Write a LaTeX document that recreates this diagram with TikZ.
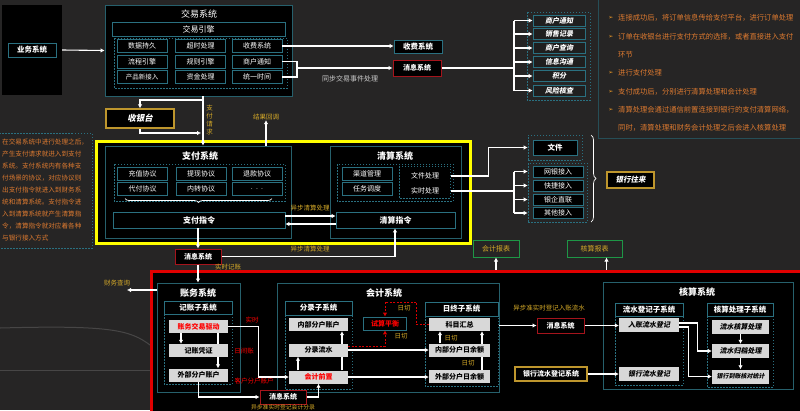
\documentclass[tikz,border=0pt]{standalone}
\usepackage{fontspec}
\setmainfont{Noto Sans CJK SC}
\newfontfamily\slfont{Noto Sans CJK SC}[FakeSlant=0.2]
\newfontfamily\symfont{DejaVu Sans}
\usetikzlibrary{arrows.meta,positioning,calc,decorations.pathreplacing}
\definecolor{bgc}{RGB}{38,37,37}
\definecolor{tealf}{RGB}{38,96,108}
\definecolor{tealc}{RGB}{42,112,128}
\definecolor{gold}{RGB}{214,170,40}
\definecolor{goldb}{RGB}{190,150,45}
\definecolor{yel}{RGB}{255,255,0}
\definecolor{redf}{RGB}{225,0,0}
\definecolor{msgred}{RGB}{165,20,28}
\definecolor{grn}{RGB}{30,150,70}
\definecolor{orng}{RGB}{222,122,48}
\definecolor{boxg}{RGB}{216,216,216}
\newcommand{\sz}[1]{\fontsize{#1}{#1}\selectfont}

\begin{document}
\begin{tikzpicture}[x=1pt,y=-1pt,
  frame/.style={draw=tealf,fill=black,line width=0.8pt,inner sep=0},
  cell/.style={draw=tealc,fill=black,line width=0.7pt,text=white,inner sep=0,minimum width=50pt,minimum height=13pt,font=\sz{7}},
  hd/.style={cell,font=\sz{7.5}\bfseries},
  ibox/.style={cell,fill=black!88!white,minimum width=52pt,minimum height=11pt,font=\sz{7}\slfont\bfseries},
  gbox/.style={fill=boxg,text=black,inner sep=0,minimum width=59pt,minimum height=13pt,font=\sz{7}\bfseries},
  gi/.style={gbox,minimum width=57pt,minimum height=14pt,font=\sz{7}\slfont\bfseries},
  gbd/.style={draw=goldb,line width=1.2pt,fill=black,text=white,inner sep=0,font=\sz{7.5}\slfont\bfseries},
  msg/.style={draw=msgred,fill=black,line width=1pt,text=white,inner sep=0,minimum width=46pt,minimum height=15pt,font=\sz{7}\bfseries},
  rep/.style={draw=grn,line width=1pt,fill=bgc,text=gold,inner sep=0,minimum height=17pt,font=\sz{7}},
  ttl/.style={text=white,inner sep=0,font=\sz{9}\bfseries},
  lbl/.style={text=gold,inner sep=0,font=\sz{6.5}},
  rlbl/.style={text=red,inner sep=0,font=\sz{6.5}},
  otxt/.style={text=orng,inner sep=0,anchor=west,font=\sz{7.3}},
  bul/.style={text=orng!80!yellow,inner sep=0,font=\sz{6}\symfont},
  dsh/.style={draw=tealc,line width=0.6pt,dash pattern=on 1.5pt off 1.5pt},
  ln/.style={draw=white,line width=1.1pt},
  ar/.style={ln,-{Latex[length=4pt,width=4.5pt]}},
  rd/.style={draw=red!85!black,line width=1pt,dash pattern=on 2pt off 1.5pt,-{Latex[length=4pt,width=4.5pt]}}]
\fill[bgc] (0,0) rectangle (800,410);
\useasboundingbox (0,0) rectangle (800,410);
\draw[white!15!bgc,line width=1pt] (0,328) .. controls (110,325) and (130,330) .. (150,345);
\draw[white!15!bgc,line width=1pt] (0,370) -- (150,370);

% trade
\node[fill=black,minimum width=60pt,minimum height=90pt,inner sep=0] (bizbg) at (32,50) {};
\node[hd,minimum width=48pt,minimum height=14pt] (biz) at (32,50) {业务系统};
\node[frame,minimum width=187pt,minimum height=91pt] (trade) at (198.5,50.5) {};
\node[ttl,font=\sz{9}] (tradet) at (199,14) {交易系统};
\node[cell,minimum width=173pt,minimum height=14pt,font=\sz{8}] (engine) at (198.5,29) {交易引擎};
\draw[dsh] (114,38) rectangle (287,88);
\node[cell] (c11) at (142,46) {数据持久};
\node[cell] (c12) at (200.5,46) {超时处理};
\node[cell] (c13) at (257,46) {收费系统};
\node[cell] (c21) at (142,61.5) {流程引擎};
\node[cell] (c22) at (200.5,61.5) {规则引擎};
\node[cell] (c23) at (257,61.5) {商户通知};
\node[cell,font=\sz{6.5}] (c31) at (142,77) {产品新接入};
\node[cell] (c32) at (200.5,77) {资金处理};
\node[cell] (c33) at (257,77) {统一时间};
\draw[ar] (bizbg.east) -- (trade.west);

\node[cell,minimum width=48pt,font=\sz{7.5}\bfseries] (fee) at (418,46.5) {收费系统};
\node[msg,minimum width=48pt,minimum height=16pt] (msg1) at (417,68) {消息系统};
\draw[ar] (c13.east) -- (c13.east -| fee.west);
\coordinate (tj) at (297,68);
\draw[ln] (c23.east) -| (tj);
\draw[ln] (c33.east) -| (tj);
\draw[ar] (tj) -- (msg1.west);
\node[text=white!80!black,inner sep=0,font=\sz{7}] (syncl) at (350,79) {同步交易事件处理};

\draw[dsh] (527,12) rectangle (590,100);
\node[ibox] (n1) at (559,20.5) {商户通知};
\node[ibox] (n2) at (559,34) {销售记录};
\node[ibox] (n3) at (559,48) {商户查询};
\node[ibox] (n4) at (559,62) {信息沟通};
\node[ibox] (n5) at (559,76) {积分};
\node[ibox] (n6) at (559,90.5) {风险核查};
\coordinate (nb) at (514,68);
\draw[ln] (msg1.east) -- (nb);
\draw[ln] (n1.west -| nb) -- (n6.west -| nb);
\draw[ar] (n1.west -| nb) -- (n1.west);
\draw[ar] (n2.west -| nb) -- (n2.west);
\draw[ar] (n3.west -| nb) -- (n3.west);
\draw[ar] (n4.west -| nb) -- (n4.west);
\draw[ar] (n5.west -| nb) -- (n5.west);
\draw[ar] (n6.west -| nb) -- (n6.west);

% notes
\node[bul] (bu1) at (611,18) {➢};
\node[otxt] (p1) at (618,18) {连接成功后，将订单信息传给支付平台，进行订单处理};
\node[bul] (bu2) at (611,37) {➢};
\node[otxt] (p2) at (618,37) {订单在收银台进行支付方式的选择，或者直接进入支付};
\node[otxt] (p3) at (618,55) {环节};
\node[bul] (bu4) at (611,73) {➢};
\node[otxt] (p4) at (618,73) {进行支付处理};
\node[bul] (bu5) at (611,92) {➢};
\node[otxt] (p5) at (618,92) {支付成功后，分别进行清算处理和会计处理};
\node[bul] (bu6) at (611,110) {➢};
\node[otxt] (p6) at (618,110) {清算处理会通过通信前置连接到银行的支付清算网络，};
\node[otxt] (p7) at (618,128) {同时，清算处理和财务会计处理之后会进入核算处理};
\draw[tealf!70!bgc,line width=0.8pt] (598,-1) -- (598,138) -- (801,138);

\draw[dsh] (-1,133) rectangle (92,248);
\node[text=orng,anchor=north west,align=left,inner sep=0,font={\fontsize{6.6}{12}\selectfont}] (note) at (2,139) {在交易系统中进行处理之后，\\产生支付请求就进入到支付\\系统。支付系统内有各种支\\付场景的协议，对应协议则\\出支付指令就进入到财务系\\统和清算系统。支付指令进\\入到清算系统就产生清算指\\令，清算指令就对应着各种\\与银行接入方式};

% cashier
\node[gbd,minimum width=68pt,minimum height=19pt,font=\sz{8.5}\slfont\bfseries] (cashier) at (140,118.5) {收银台};
\node[lbl,align=center,font={\fontsize{6.5}{8}\selectfont}] (reql) at (209.5,120) {支\\付\\请\\求};
\node[lbl] (cbl) at (266,117) {结果回调};

% pay / clear
\node[draw=yel,line width=3pt,fill=black,minimum width=374pt,minimum height=102pt,inner sep=0] (hl) at (283,192) {};
\node[frame,minimum width=186pt,minimum height=92pt] (pay) at (198,192) {};
\node[ttl] (payt) at (200,156) {支付系统};
\draw[dsh] (114,164) rectangle (285,201);
\node[cell] (a1) at (142.5,173.5) {充值协议};
\node[cell] (a2) at (201,173.5) {提现协议};
\node[cell] (a3) at (257,173.5) {退款协议};
\node[cell] (a4) at (142.5,189) {代付协议};
\node[cell] (a5) at (201,189) {内转协议};
\node[cell] (a6) at (257,189) {.\ \ .\ \ .};
\draw[white,line width=0.7pt,decorate,decoration={brace,mirror,amplitude=4pt}] (125,198.5) -- (272,198.5);
\node[cell,minimum width=172pt,minimum height=16pt,font=\sz{8}\bfseries] (payi) at (199,220) {支付指令};

\node[frame,minimum width=131pt,minimum height=92pt] (clr) at (395.5,192) {};
\node[ttl] (clrt) at (395,156) {清算系统};
\draw[dsh] (337,164) rectangle (453,201);
\node[cell] (b1) at (367,173.5) {渠道管理};
\node[cell] (b2) at (367,189) {任务调度};
\draw[dsh] (399,166) rectangle (450,198);
\node[text=white,inner sep=0,minimum width=51pt,font=\sz{7}] (fp) at (425,176) {文件处理};
\node[text=white,inner sep=0,minimum width=51pt,font=\sz{7}] (rp) at (425,191) {实时处理};
\node[cell,minimum width=119pt,minimum height=16pt,font=\sz{8}\bfseries] (clri) at (395.5,220) {清算指令};
\draw[ar] ([yshift=4pt]payi.east) -- ([yshift=4pt]clri.west);
\draw[ar] ([yshift=-4pt]clri.west) -- ([yshift=-4pt]payi.east);
\node[lbl] (asl1) at (310,208) {异步清算处理};

\coordinate (rq) at (203,100);
\coordinate (rt) at (201,133);
\draw[ar] (trade.south -| rq) -- (pay.north -| rq);
\draw[ar] (rq) -| (cashier.north);
\draw[ar] (cashier.south) |- (rt);
\draw[ar] (pay.north -| cbl) -- (cbl.south);

% bank side
\node[dsh,minimum width=54pt,minimum height=25pt,inner sep=0] (filebox) at (555,147.5) {};
\node[cell,minimum width=44pt,minimum height=15pt,font=\sz{7.5}\bfseries] (file) at (555,147.5) {文件};
\draw[ar] (fp.east) -- ++(38,0) |- (filebox.west);
\node[dsh,minimum width=59pt,minimum height=59pt,inner sep=0] (accbox) at (557.5,192.5) {};
\node[cell,minimum height=11pt] (k1) at (558,171.5) {网银接入};
\node[cell,minimum height=11pt] (k2) at (558,185.5) {快捷接入};
\node[cell,minimum height=11pt] (k3) at (558,199.5) {银企直联};
\node[cell,minimum height=11pt] (k4) at (558,213) {其他接入};
\coordinate (ab) at (514,191);
\draw[ln] (rp.east) -- (ab);
\draw[ln] (k1.west -| ab) -- (k4.west -| ab);
\draw[ar] (k1.west -| ab) -- (k1.west -| accbox.west);
\draw[ar] (k2.west -| ab) -- (k2.west -| accbox.west);
\draw[ar] (k3.west -| ab) -- (k3.west -| accbox.west);
\draw[ar] (k4.west -| ab) -- (k4.west -| accbox.west);
\draw[white,line width=0.7pt,decorate,decoration={brace,amplitude=5pt}] (591,135) -- (591,222);
\node[gbd,minimum width=47pt,minimum height=16pt] (bank) at (630.5,180) {银行往来};

% lower part
\node[msg] (msg2) at (198,256.5) {消息系统};
\draw[ar] (payi.south -| msg2) -- (msg2.north);
\coordinate (cj) at (395,256.5);
\draw[ln] (msg2.east) -- (cj);
\draw[ar] (cj) -- (clri.south -| cj);
\node[lbl] (asl2) at (310,249) {异步清算处理};

\node[rep,minimum width=46pt] (rep1) at (496,248.5) {会计报表};
\node[rep,minimum width=55pt] (rep2) at (594.5,248.5) {核算报表};
\node[draw=redf,line width=3pt,fill=black,minimum width=655pt,minimum height=145pt,inner sep=0] (redbox) at (478.5,343.5) {};
\node[lbl] (rtl) at (228,267) {实时记账};
\draw[ar] (redbox.north -| rep1) -- (rep1.south);
\draw[ar] ([xshift=12pt]rep2.south |- redbox.north) -- ([xshift=12pt]rep2.south);

% ledger
\node[frame,minimum width=83pt,minimum height=109pt] (ledger) at (198.5,337.5) {};
\node[ttl] (ledgert) at (198,293) {账务系统};
\draw[ar] (msg2.south) -- (ledger.north -| msg2);
\node[lbl] (fq) at (117,283) {财务查询};
\coordinate (fqa) at (127,290);
\draw[ar] (ledger.west |- fqa) -- (fqa);
\node[hd,minimum width=68pt] (jz) at (198,307.5) {记账子系统};
\draw[dsh] (164,314) rectangle (232,384);
\node[gbox,text=red] (drv) at (198.5,326.5) {账务交易驱动};
\node[gbox] (wb) at (198.5,375) {外部分户账户};
\draw[ar] ([xshift=19.5pt]drv.south) -- ([xshift=19.5pt]wb.north);
\node[gbox] (pz) at (198.5,350.5) {记账凭证};
\draw[ar] ([xshift=-17.5pt]drv.south) -- ([xshift=-17.5pt]pz.north);

% accounting
\node[frame,minimum width=222pt,minimum height=109pt] (acc) at (388,337.5) {};
\node[ttl] (acct) at (384,293) {会计系统};
\node[hd,minimum width=67pt,minimum height=14pt] (fl) at (318.5,308) {分录子系统};
\draw[dsh] (285,315) rectangle (352,389);
\node[gbox] (ina) at (318.5,324.5) {内部分户账户};
\node[gbox,text=red] (pre) at (318.5,377) {会计前置};
\draw[ar] ([xshift=23.5pt]pre.north) -- ([xshift=23.5pt]ina.south);
\node[gbox] (flw) at (318.5,350) {分录流水};
\draw[ar] ([xshift=-20.5pt]pre.north) -- ([xshift=-20.5pt]flw.south);
\node[cell,text=red,font=\sz{7}\bfseries,minimum width=43pt] (trial) at (385,323.5) {试算平衡};

\node[rlbl] (rt1) at (252,320) {实时};
\node[rlbl] (rt2) at (244,351) {日间账};
\node[rlbl] (rt3) at (254,381) {客户分户账户};
\draw[ar] (drv.east) -- ++(30,0) |- (pre.west);
\node[msg,minimum height=14pt] (msg3) at (283,397) {消息系统};
\draw[ar] (wb.south) |- (msg3.west);
\draw[ar] (msg3.east) -| (pre.south);
\node[lbl,font=\sz{5.8}] (asl3) at (283,407) {异步准实时登记会计分录};

\node[hd,minimum width=73pt,minimum height=14pt] (rz) at (461.5,309) {日终子系统};
\draw[dsh] (425,316) rectangle (498,386);
\node[gbox,minimum width=61pt] (sum) at (459.5,324.5) {科目汇总};
\node[gbox,minimum width=61pt] (dext) at (459.5,376.5) {外部分户日余额};
\draw[ar] ([xshift=22.5pt]dext.north) -- ([xshift=22.5pt]sum.south);
\node[gbox,minimum width=61pt] (dint) at (459.5,350) {内部分户日余额};
\draw[ar] ([xshift=-19.5pt]dint.north) -- ([xshift=-19.5pt]sum.south);
\draw[ar] (flw.east) -- (flw.east -| dint.west);
\draw[ar] (pre.east) -- (pre.east -| dext.west);
\draw[rd] (sum.west) -- ++(-12,0) -- ++(0,-22.5) -| (trial.north);
\draw[rd] ([yshift=4pt]flw.east) -| (trial.south);
\node[lbl] (dq1) at (404,308) {日切};
\node[lbl] (dq2) at (401,336) {日切};
\node[lbl] (dq3) at (451,338) {日切};
\node[lbl] (dq4) at (468,363) {日切};

% core
\node[lbl] (asl4) at (549,308) {异步准实时登记入账流水};
\node[msg,minimum width=47pt] (msg4) at (560.5,325.5) {消息系统};
\draw[ar] (acc.east |- msg4) -- (msg4.west);
\node[gbd,minimum width=72pt,minimum height=14pt,font=\sz{7}\bfseries] (bankflow) at (551,374) {银行流水登记系统};
\node[frame,minimum width=190pt,minimum height=107pt] (core) at (698,335.5) {};
\node[ttl] (coret) at (697,292) {核算系统};
\node[hd,minimum width=68pt] (ls) at (649,309.5) {流水登记子系统};
\draw[dsh] (615,316) rectangle (683,385);
\node[gi,minimum width=60pt] (rz1) at (649,325) {入账流水登记};
\node[gi,minimum width=60pt] (bf) at (649,374) {银行流水登记};
\draw[ar] (msg4.east) -- (msg4.east -| rz1.west);
\draw[ar] (bankflow.east) -- (bankflow.east -| bf.west);
\node[hd,minimum width=66pt] (hs) at (740,309.5) {核算处理子系统};
\draw[dsh] (707,316) rectangle (773,387);
\node[gi] (h1) at (740.5,327) {流水核算处理};
\node[gi] (h2) at (740.5,351) {流水归档处理};
\node[gi,font=\sz{6}\slfont\bfseries] (h3) at (740.5,376.5) {银行到账核对统计};
\draw[ar] (h1) -- (h2);
\draw[ar] (h2) -- (h3);
\draw[ar] ([yshift=2pt]rz1.east) -- ++(18,0) |- (h2.west);
\draw[ar] ([yshift=-2pt]rz1.east) -- ++(9,0) |- (h3.west);
\end{tikzpicture}
\end{document}
